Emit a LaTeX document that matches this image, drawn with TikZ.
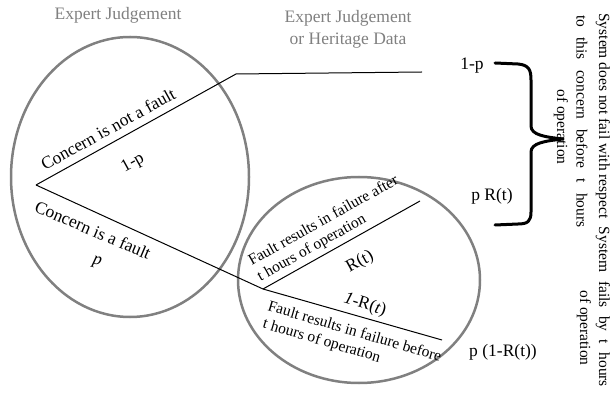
\documentclass[tikz,border=0pt]{standalone}
\usepackage{fontspec}
\setmainfont{Liberation Serif}
\definecolor{ringgray}{RGB}{128,128,128}
\definecolor{textgray}{RGB}{128,128,128}
\begin{document}
\begin{tikzpicture}[x=1pt,y=-1pt,
  ring/.style={draw=ringgray, line width=2.5pt},
  branch/.style={draw=black, line width=1pt},
  lbl/.style={font=\fontsize{17.5}{21}\selectfont, inner sep=0pt},
  flbl/.style={font=\fontsize{15.5}{18}\selectfont, inner sep=0pt, align=left},
  glbl/.style={text=textgray, font=\fontsize{17.5}{22}\selectfont, inner sep=0pt, align=center},
  side/.style={font=\fontsize{15.5}{22}\selectfont, rotate=-90, inner sep=0pt},
  bracepath/.style={draw=black, line width=3pt, line cap=round, line join=round}]
\useasboundingbox (0,0) rectangle (613,403);

% ellipses
\draw[ring] (130,177) ellipse [x radius=119, y radius=140];
\draw[ring] (359,280) ellipse [x radius=121, y radius=103];

% tree points
\coordinate (root) at (36,185);
\coordinate (c1) at (236,74);
\coordinate (e1) at (422,72);
\coordinate (b) at (263,289);
\coordinate (e2) at (420,201);
\coordinate (e3) at (442,340);

\draw[branch] (root) -- (c1) -- (e1);
\draw[branch] (root) -- (b);
\draw[branch] (b) -- (e2);
\draw[branch] (b) -- (e3);

% gray headings
\node[glbl] (h1) at (118,15) {Expert Judgement};
\node[glbl] (h2) at (348,29) {Expert Judgement\\or Heritage Data};

% branch labels
\node[lbl, rotate=29] (nf) at (108,129) {Concern is not a fault};
\node[lbl, rotate=29] (onemp) at (133,163) {1-p};
\node[lbl, rotate=-23] (isf) at (93,230) {Concern is a fault};
\node[lbl, rotate=-15] (pp) at (97,262) {\textit{p}};
\node[flbl, rotate=29.3] (fa) at (328,229) {Fault results in failure after\\t hours of operation};
\node[lbl, rotate=29] (rt) at (360,262) {R(t)};
\node[lbl, rotate=-17] (omr) at (365,305) {\textit{1}-R(\textit{t})};
\node[flbl, rotate=-16.5] (fb) at (352,341) {Fault results in failure before\\t hours of operation};

% outcomes
\node[lbl] (o1) at (472,66) {1-p};
\node[lbl] (o2) at (492,196) {p R(t)};
\node[lbl] (o3) at (503,352) {p (1-R(t))};

% brace
\draw[bracepath] (495,63) -- (518,64) .. controls (529,65) and (531,70) .. (531,80)
  -- (531,126) .. controls (531,135) and (545,137) .. (563,139)
  .. controls (545,141) and (531,143) .. (531,152)
  -- (531,212) .. controls (531,221) and (528,224) .. (518,224) -- (495,225);

% side texts
\node[side] (s1a) at (603,116) {System does not fail with respect};
\node[side] (s1b) at (582,121.5) {\makebox[212pt][s]{to this concern before t hours}};
\node[side] (s1c) at (561,127) {of operation};
\node[side] (s2a) at (603,307) {\makebox[160pt][s]{System fails by t hours}};
\node[side] (s2b) at (584,328) {of operation};
\end{tikzpicture}
\end{document}
